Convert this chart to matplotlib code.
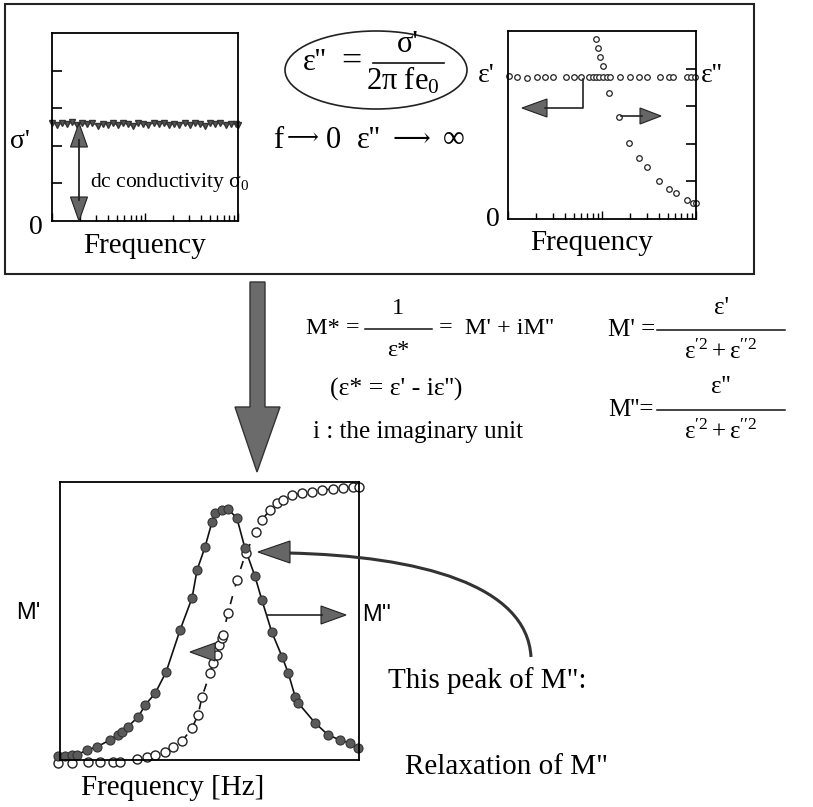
import matplotlib.pyplot as plt
from matplotlib.patches import Polygon, Ellipse, Rectangle, PathPatch
from matplotlib.path import Path

plt.rcParams['mathtext.fontset'] = 'custom'
plt.rcParams['mathtext.rm'] = 'Liberation Serif'
plt.rcParams['mathtext.it'] = 'Liberation Serif:italic'

SERIF = ['Liberation Serif', 'DejaVu Serif', 'DejaVu Sans']
SANS = ['Liberation Sans', 'DejaVu Sans']

# sigma' vs frequency: flat dc plateau
freq_sigma = [1.0, 1.13, 1.28, 1.45, 1.64, 1.86, 2.1, 2.4, 2.7, 3.1, 3.5, 4.0,
              4.5, 5.1, 5.8, 6.6, 7.5, 8.5, 9.6, 10.9, 12.4, 14.1, 16.0, 18.2,
              20.6, 23.4, 26.6, 30.2, 34.3, 38.9, 44.2, 50.2, 57.0, 64.7, 73.5,
              83.5, 94.8, 100.0]
sigma_vals = [2.61, 2.56, 2.60, 2.58, 2.62, 2.55, 2.60, 2.57, 2.61, 2.53, 2.59,
              2.56, 2.61, 2.54, 2.60, 2.57, 2.52, 2.60, 2.58, 2.55, 2.61, 2.57,
              2.60, 2.54, 2.59, 2.56, 2.61, 2.55, 2.60, 2.57, 2.53, 2.60, 2.58,
              2.61, 2.55, 2.59, 2.57, 2.56]

# epsilon' (flat) and epsilon'' (diverging at low f)
freq_eps1 = [1.03, 1.26, 1.58, 2.02, 2.48, 3.03, 4.14, 5.04, 5.93, 7.33, 7.96,
             8.63, 9.35, 10.2, 11.2, 12.2, 15.5, 19.9, 24.9, 30.3, 41.4, 52.0,
             57.4, 79.4, 87.9, 97.7]
eps1_vals = [3.80, 3.77, 3.76, 3.77, 3.77, 3.77, 3.77, 3.77, 3.77, 3.78, 3.78,
             3.78, 3.78, 3.78, 3.78, 3.78, 3.77, 3.77, 3.77, 3.77, 3.77, 3.77,
             3.77, 3.77, 3.77, 3.77]
freq_eps2 = [8.63, 9.14, 9.52, 10.2, 12.0, 15.3, 19.5, 24.9, 30.3, 40.7, 52.0,
             61.2, 79.5, 92.2, 100.0]
eps2_vals = [4.78, 4.54, 4.30, 4.07, 3.36, 2.71, 2.01, 1.61, 1.39, 1.02, 0.79,
             0.68, 0.50, 0.43, 0.43]

# electric modulus M'' (filled) and M' (open), log10 frequency
logf_m2 = [-1.04, -0.90, -0.76, -0.66, -0.46, -0.26, 0.0, 0.16, 0.24, 0.36,
           0.57, 0.71, 0.91, 1.13, 1.41, 1.65, 1.75, 1.91, 2.05, 2.11, 2.25,
           2.37, 2.55, 2.71, 2.91, 3.05, 3.25, 3.46, 3.58, 3.72, 3.78, 4.12,
           4.38, 4.62, 4.82, 4.98]
m2_vals = [0.014, 0.014, 0.018, 0.018, 0.036, 0.047, 0.072, 0.090, 0.100,
           0.120, 0.155, 0.198, 0.240, 0.317, 0.468, 0.583, 0.683, 0.766,
           0.856, 0.888, 0.900, 0.903, 0.870, 0.763, 0.662, 0.576, 0.460,
           0.370, 0.313, 0.227, 0.205, 0.133, 0.090, 0.072, 0.061, 0.043]
logf_m1 = [-1.04, -0.76, -0.44, -0.20, 0.06, 0.20, 0.55, 0.75, 0.91, 1.11,
           1.27, 1.45, 1.65, 1.77, 1.85, 2.01, 2.07, 2.15, 2.19, 2.25, 2.27,
           2.37, 2.55, 2.73, 2.93, 3.05, 3.21, 3.35, 3.48, 3.66, 3.86, 4.06,
           4.26, 4.48, 4.68, 4.88, 5.0]
m1_vals = [-0.01, -0.01, -0.007, -0.007, -0.007, -0.007, 0.004, 0.011, 0.018,
           0.029, 0.047, 0.068, 0.115, 0.162, 0.227, 0.313, 0.349, 0.378,
           0.414, 0.439, 0.450, 0.529, 0.647, 0.745, 0.820, 0.863, 0.899,
           0.924, 0.935, 0.953, 0.960, 0.964, 0.971, 0.975, 0.978, 0.982, 0.982]

W, H = 813, 807
fig = plt.figure(figsize=(W / 100, H / 100), dpi=100)


def px_box(x0, y0, x1, y1):
    return [x0 / W, 1 - y1 / H, (x1 - x0) / W, (y1 - y0) / H]


def style_axes(ax):
    for s in ax.spines.values():
        s.set_linewidth(1.3)


# --- sigma' panel
ax1 = fig.add_axes(px_box(52, 33, 238, 221))
ax1.semilogx(freq_sigma, sigma_vals, '-', color='#555', lw=0.8)
ax1.semilogx(freq_sigma, sigma_vals, 'v', ms=4, color='#555', mec='#333',
             clip_on=False)
ax1.set_xlim(1, 100)
ax1.set_ylim(0, 5)
ax1.set_yticks([1, 2, 3, 4])
ax1.tick_params(axis='y', direction='in', length=7, width=1.2, labelleft=False)
ax1.tick_params(axis='x', which='major', direction='in', length=6, width=1,
                labelbottom=False)
ax1.tick_params(axis='x', which='minor', direction='in', length=4, width=1,
                labelbottom=False)
style_axes(ax1)

# --- epsilon panel
ax2 = fig.add_axes(px_box(508, 31, 696, 219))
ax2.semilogx(freq_eps1, eps1_vals, 'o', ms=4, mfc='white', mec='#222',
             mew=0.9, clip_on=False)
ax2.semilogx(freq_eps2, eps2_vals, 'o', ms=4, mfc='white', mec='#222',
             mew=0.9, clip_on=False)
ax2.set_xlim(1, 100)
ax2.set_ylim(0, 5)
ax2.yaxis.tick_right()
ax2.set_yticks([1, 2, 3, 4])
ax2.tick_params(axis='y', direction='in', length=7, width=1.2,
                labelright=False)
ax2.tick_params(axis='x', which='major', direction='in', length=6, width=1,
                labelbottom=False)
ax2.tick_params(axis='x', which='minor', direction='in', length=4, width=1,
                labelbottom=False)
style_axes(ax2)

# --- modulus panel
ax3 = fig.add_axes(px_box(60, 482, 359, 760))
ax3.plot(logf_m2, m2_vals, '-', color='#111', lw=1.2)
ax3.plot(logf_m1, m1_vals, ls=(0, (5, 6)), color='#111', lw=1.2)
ax3.plot(logf_m1, m1_vals, 'o', ms=6.5, mfc='white', mec='#222', mew=1,
         clip_on=False)
ax3.plot(logf_m2, m2_vals, 'o', ms=6.5, mfc='#5a5a5a', mec='#333', mew=0.8,
         clip_on=False)
ax3.set_xlim(-1, 5)
ax3.set_ylim(0, 1)
ax3.set_xticks([])
ax3.set_yticks([])
style_axes(ax3)

# --- overlay in pixel coordinates for boxes, arrows and formulas
ax0 = fig.add_axes([0, 0, 1, 1], zorder=10)
ax0.set_xlim(0, W)
ax0.set_ylim(H, 0)
ax0.axis('off')
ax0.patch.set_alpha(0)


def head(x, y, ux, uy, length, half, fc='#666'):
    bx, by = x - ux * length, y - uy * length
    nx, ny = -uy, ux
    pts = [(x, y), (bx + nx * half, by + ny * half),
           (bx - nx * half, by - ny * half)]
    ax0.add_patch(Polygon(pts, closed=True, fc=fc, ec='#222', lw=0.8))


def txt(x, y, s, size, ha='left', family=SERIF, **kw):
    ax0.text(x, y, s, fontsize=size, ha=ha, va='center', family=family, **kw)


ax0.add_patch(Rectangle((5, 4), 749, 270, fill=False, lw=1.5, ec='#222'))

# top-left panel annotations
ax0.plot([79, 79], [140, 200], color='#222', lw=1.3)
head(79, 123, 0, -1, 24, 8.5)
head(79, 221, 0, 1, 24, 8.5)
txt(20, 141, "σ'", 20, ha='center')
txt(36, 227, '0', 20, ha='center')
txt(145, 246, 'Frequency', 21, ha='center')
txt(90, 182, r'dc conductivity $\mathrm{σ}_{0}$', 15.5)

# middle formula
ax0.add_patch(Ellipse((376, 70), 182, 78, fill=False, lw=1.2, ec='#222'))
txt(303, 62, "ε''", 22)
txt(351, 62, '=', 26, ha='center')
ax0.plot([373, 444], [63, 63], color='#111', lw=1.2)
txt(408, 44, "σ'", 22, ha='center')
txt(403, 81, r'$\mathrm{2π\ fe}_{0}$', 22, ha='center')
txt(273, 140, 'f', 22)
txt(303, 140, '⟶', 16, ha='center')
txt(333, 140, '0', 22, ha='center')
txt(357, 140, "ε''", 22)
txt(411, 140, '⟶', 19, ha='center')
txt(454, 140, '∞', 22, ha='center')

# top-right panel annotations
txt(486, 76, "ε'", 20, ha='center')
txt(712, 76, "ε''", 20, ha='center')
txt(493, 219, '0', 20, ha='center')
txt(592, 243, 'Frequency', 21, ha='center')
ax0.plot([583, 583, 545], [79, 108, 108], color='#222', lw=1.2)
head(522, 108, -1, 0, 25, 9)
ax0.plot([621, 642], [116, 116], color='#222', lw=1.2)
head(661, 116, 1, 0, 21, 8)

# big downward arrow
ax0.add_patch(Polygon([(250, 282), (265, 282), (265, 407), (280, 407),
                       (257, 472), (235, 407), (250, 407)], closed=True,
                      fc='#6b6b6b', ec='#333', lw=1))

# modulus definitions
txt(306, 329, 'M* =', 17.5)
ax0.plot([365, 432], [329, 329], color='#111', lw=1.1)
txt(398, 309, '1', 17.5, ha='center')
txt(398, 350, 'ε*', 17.5, ha='center')
txt(439, 329, "=  M' + iM''", 17.5)
txt(330, 389, "(ε* = ε' - iε'')", 18.5)
txt(313, 432, 'i : the imaginary unit', 18)

txt(608, 330, "M' =", 18)
ax0.plot([657, 785], [330, 330], color='#111', lw=1.1)
txt(721, 308, "ε'", 18, ha='center')
txt(721, 352, r"$\mathrm{ε}^{\prime 2}+\mathrm{ε}^{\prime\prime 2}$", 18,
    ha='center')
txt(608, 410, "M''=", 18)
ax0.plot([657, 785], [410, 410], color='#111', lw=1.1)
txt(721, 387, "ε''", 18, ha='center')
txt(721, 432, r"$\mathrm{ε}^{\prime 2}+\mathrm{ε}^{\prime\prime 2}$", 18,
    ha='center')

# bottom panel annotations
txt(28, 613, "M'", 17, ha='center', family=SANS)
txt(362, 615, "M''", 17, family=SANS)
head(190, 652, -1, 0, 25, 9)
ax0.plot([267, 322], [615, 615], color='#222', lw=1.2)
head(346, 615, 1, 0, 25, 9)
curve = Path([(288, 553), (420, 556), (527, 585), (531, 657)],
             [Path.MOVETO, Path.CURVE4, Path.CURVE4, Path.CURVE4])
ax0.add_patch(PathPatch(curve, fill=False, lw=2.2, ec='#333'))
head(258, 552, -1, 0, 32, 11)
txt(388, 681, 'This peak of M":', 21)
txt(405, 767, 'Relaxation of M"', 21)
txt(173, 788, 'Frequency [Hz]', 21, ha='center')

fig.savefig('out.png', dpi=100)
